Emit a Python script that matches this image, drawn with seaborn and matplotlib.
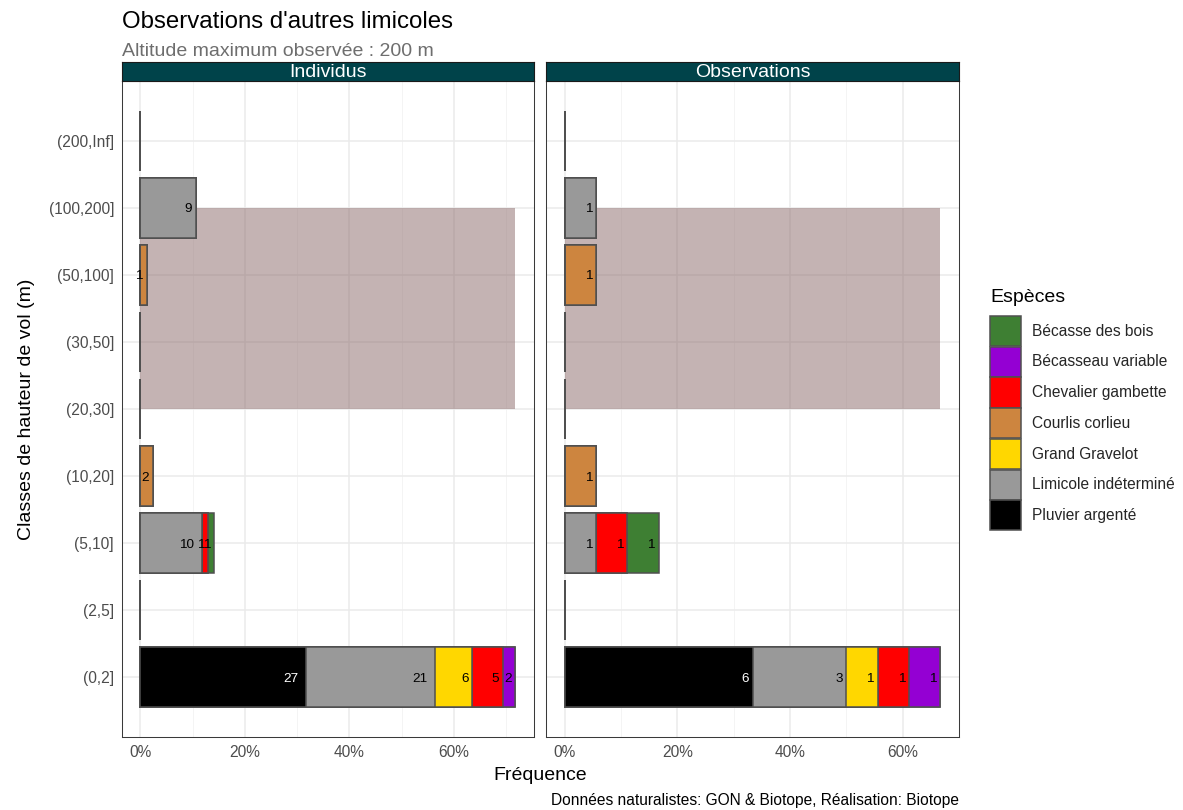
import numpy as np
import pandas as pd
import matplotlib
matplotlib.use("Agg")
import matplotlib.pyplot as plt
import seaborn as sns
from matplotlib.patches import Patch, Rectangle
from matplotlib.ticker import FuncFormatter, MultipleLocator

# ---- data -------------------------------------------------------------
classes = ["(200,Inf]", "(100,200]", "(50,100]", "(30,50]", "(20,30]",
           "(10,20]", "(5,10]", "(2,5]", "(0,2]"]

# stacking order, left to right
species = ["Pluvier argenté", "Limicole indéterminé", "Grand Gravelot",
           "Courlis corlieu", "Chevalier gambette", "Bécasseau variable",
           "Bécasse des bois"]
legend_order = ["Bécasse des bois", "Bécasseau variable", "Chevalier gambette",
                "Courlis corlieu", "Grand Gravelot", "Limicole indéterminé",
                "Pluvier argenté"]

# number of individuals per height class (same order as `classes`)
ind_pluvier = [0, 0, 0, 0, 0, 0, 0, 0, 27]
ind_limicole = [0, 9, 0, 0, 0, 0, 10, 0, 21]
ind_gravelot = [0, 0, 0, 0, 0, 0, 0, 0, 6]
ind_courlis = [0, 0, 1, 0, 0, 2, 0, 0, 0]
ind_chevalier = [0, 0, 0, 0, 0, 0, 1, 0, 5]
ind_becasseau = [0, 0, 0, 0, 0, 0, 0, 0, 2]
ind_becasse = [0, 0, 0, 0, 0, 0, 1, 0, 0]

# number of observations per height class
obs_pluvier = [0, 0, 0, 0, 0, 0, 0, 0, 6]
obs_limicole = [0, 1, 0, 0, 0, 0, 1, 0, 3]
obs_gravelot = [0, 0, 0, 0, 0, 0, 0, 0, 1]
obs_courlis = [0, 0, 1, 0, 0, 1, 0, 0, 0]
obs_chevalier = [0, 0, 0, 0, 0, 0, 1, 0, 1]
obs_becasseau = [0, 0, 0, 0, 0, 0, 0, 0, 1]
obs_becasse = [0, 0, 0, 0, 0, 0, 1, 0, 0]

# height band swept by the rotor
rotor_band = ("(20,30]", "(100,200]")

panels = ["Individus", "Observations"]
panel_counts = {
    "Individus": [ind_pluvier, ind_limicole, ind_gravelot, ind_courlis,
                  ind_chevalier, ind_becasseau, ind_becasse],
    "Observations": [obs_pluvier, obs_limicole, obs_gravelot, obs_courlis,
                     obs_chevalier, obs_becasseau, obs_becasse],
}

title = "Observations d'autres limicoles"
subtitle = "Altitude maximum observée : 200 m"
xlabel = "Fréquence"
ylabel = "Classes de hauteur de vol (m)"
caption = "Données naturalistes: GON & Biotope, Réalisation: Biotope"
legend_title = "Espèces"

# ---- style ------------------------------------------------------------
colors = {
    "Bécasse des bois": "#3E7F33",
    "Bécasseau variable": "#9400D3",
    "Chevalier gambette": "#FF0000",
    "Courlis corlieu": "#CD853F",
    "Grand Gravelot": "#FFD700",
    "Limicole indéterminé": "#999999",
    "Pluvier argenté": "#000000",
}
label_colors = {s: ("white" if s == "Pluvier argenté" else "black") for s in species}
band_color = "#8B6969"
strip_color = "#00434A"
bar_edge = "#505050"
grid_major = "#EBEBEB"
grid_minor = "#F3F3F3"
text_grey = "#4D4D4D"
frame_grey = "#3A3A3A"

sns.set_style("white")
plt.rcParams["font.family"] = ["Liberation Sans", "DejaVu Sans"]

W, H = 1183, 810
fig = plt.figure(figsize=(W / 100, H / 100), dpi=100)


def fx(px):
    return px / W


def fy(py):
    return 1 - py / H


panel_top, panel_bottom = 81, 737
panel_x = {"Individus": (121.7, 534.0), "Observations": (546.0, 959.0)}
strip_h = 19

axes = {}
for name in panels:
    x0, x1 = panel_x[name]
    ax = fig.add_axes([fx(x0), fy(panel_bottom), fx(x1 - x0),
                       (panel_bottom - panel_top) / H])
    axes[name] = ax

    mat = np.array(panel_counts[name], dtype=float)
    pct = mat / mat.sum() * 100
    cum = pct.cumsum(axis=0)
    xmax = cum[-1].max()

    # rotor height band
    i_top = classes.index(rotor_band[1])
    i_bot = classes.index(rotor_band[0])
    ax.add_patch(Rectangle((0, i_top), xmax, i_bot - i_top,
                           facecolor=band_color, alpha=0.5, lw=0))

    # stacked bars: draw cumulative totals from the outermost segment inward
    for k in reversed(range(len(species))):
        df = pd.DataFrame({"classe": classes, "freq": cum[k]})
        sns.barplot(data=df, x="freq", y="classe", order=classes, orient="h",
                    color=colors[species[k]], saturation=1, width=0.9,
                    edgecolor=bar_edge, linewidth=1.1, errorbar=None, ax=ax)

    # count labels at the end of each segment
    for k, sp in enumerate(species):
        for j, cl in enumerate(classes):
            n = int(mat[k, j])
            if n > 0:
                s = str(n)
                ax.annotate(s, xy=(cum[k, j], j),
                            xytext=(-2.7 * len(s), 0),
                            textcoords="offset points",
                            ha="right", va="center_baseline",
                            fontsize=9.7, color=label_colors[sp], zorder=5)

    pad = 0.05 * xmax
    ax.set_xlim(-pad, xmax + pad)
    ax.set_ylim(len(classes) - 1 + 0.895, -0.895)
    ax.xaxis.set_major_locator(MultipleLocator(20))
    ax.xaxis.set_minor_locator(MultipleLocator(10))
    ax.xaxis.set_major_formatter(FuncFormatter(lambda v, p: f"{v:.0f}%"))
    ax.set_axisbelow(True)
    ax.grid(which="major", color=grid_major, lw=1.1)
    ax.grid(which="minor", axis="x", color=grid_minor, lw=0.6)
    ax.set_xlabel("")
    ax.set_ylabel("")
    ax.tick_params(axis="x", which="major", length=3.5, width=0.8,
                   color=frame_grey, labelsize=11.2, labelcolor=text_grey, pad=2)
    ax.tick_params(axis="x", which="minor", length=0)
    if name == panels[0]:
        ax.set_yticks(range(len(classes)))
        ax.set_yticklabels(classes)
        ax.tick_params(axis="y", length=3.5, width=0.8, color=frame_grey,
                       labelsize=11.2, labelcolor=text_grey, pad=2)
    else:
        ax.tick_params(axis="y", length=0, labelleft=False)
    for sp_ in ax.spines.values():
        sp_.set_visible(True)
        sp_.set_color(frame_grey)
        sp_.set_linewidth(0.75)

    # facet strip
    sax = fig.add_axes([fx(x0), fy(panel_top), fx(x1 - x0), strip_h / H])
    sax.set_facecolor(strip_color)
    sax.set_xticks([])
    sax.set_yticks([])
    for sp_ in sax.spines.values():
        sp_.set_color("#1A1A1A")
        sp_.set_linewidth(0.8)
    sax.text(0.5, 0.45, name, transform=sax.transAxes, ha="center",
             va="center", color="white", fontsize=14)

# titles and annotations
fig.text(fx(121.7), fy(28), title, fontsize=17.3, va="baseline", color="black")
fig.text(fx(121.7), fy(56.5), subtitle, fontsize=14, va="baseline", color="#6E6E6E")
fig.text(fx((121.7 + 959) / 2), fy(775), xlabel, fontsize=14, ha="center",
         va="center", color="black")
fig.text(fx(27), fy((panel_top + panel_bottom) / 2), ylabel, fontsize=14,
         rotation=90, ha="center", va="center", color="black")
fig.text(fx(959), fy(801), caption, fontsize=11.2, ha="right", va="center",
         color="black")

# legend: title as its own text, keys below it
fig.text(fx(990), fy(298), legend_title, fontsize=14, ha="left",
         va="center", color="black")
handles = [Patch(facecolor=colors[s], edgecolor=bar_edge, linewidth=1.1)
           for s in legend_order]
leg = fig.legend(handles, legend_order, loc="upper left",
                 bbox_to_anchor=(fx(990), fy(316)), frameon=False,
                 fontsize=11.2, handlelength=2.0,
                 handleheight=2.6, labelspacing=0.04, handletextpad=0.7,
                 borderpad=0, borderaxespad=0)

fig.savefig("out.png", dpi=100)
